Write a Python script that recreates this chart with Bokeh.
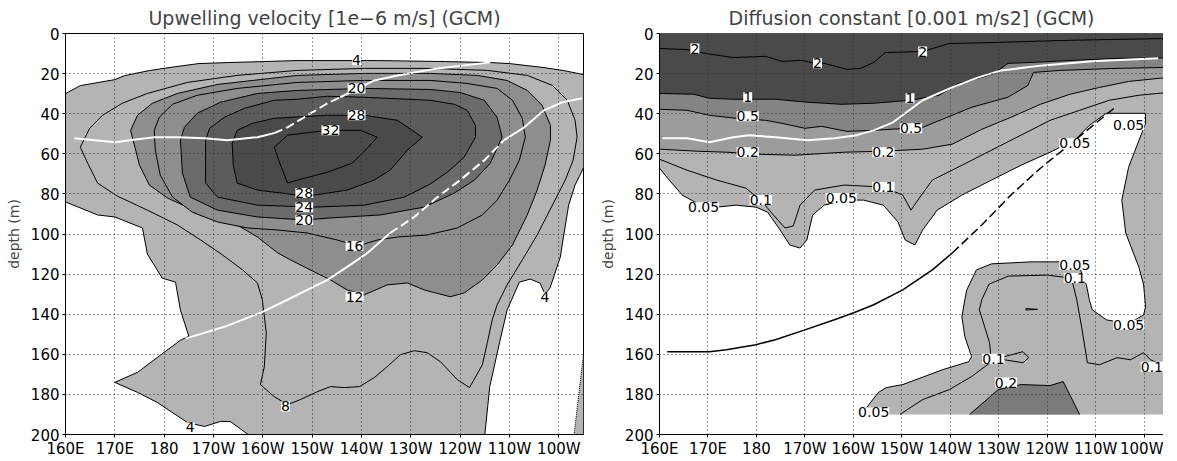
from bokeh.plotting import figure
from bokeh.layouts import row
from bokeh.models import Range1d, FixedTicker, Label, Span
from bokeh.embed import file_html
from bokeh.resources import INLINE

FONT = "DejaVu Sans"

LON_TICKS = [160, 170, 180, 190, 200, 210, 220, 230, 240, 250, 260]
LON_LABELS = ["160E", "170E", "180", "170W", "160W", "150W", "140W", "130W", "120W", "110W", "100W"]
DEPTH_TICKS = [0, 20, 40, 60, 80, 100, 120, 140, 160, 180, 200]

# ---------------- Left panel: upwelling velocity contours (lon, depth) ----------------
up4_top = [(160, 30), (163, 26), (170, 23), (172, 21), (177, 18.5), (181, 17), (187, 15), (193, 14.5),
           (200, 14), (207, 13.5), (223, 13.5), (237, 14), (246, 14.5), (250, 15), (257, 17), (261, 18.5), (265, 20.5)]
up4_right = [(265, 67), (263.3, 75.5), (262, 85.5), (261, 100.5), (260.3, 111.5), (258.2, 127), (257.2, 130),
             (256.2, 124.5), (254.2, 122.5), (252, 124), (249.5, 138), (248, 154), (246, 176), (245, 200)]
up4_left = [(160, 84), (166.5, 90.5), (170, 91.5), (175.6, 97), (176.6, 110), (179.6, 122), (182.3, 124),
            (183.3, 138), (185, 151), (183.3, 153), (180, 159), (174.6, 169), (170, 174), (174.6, 179),
            (178.6, 184), (184.7, 194), (188.2, 196), (191.4, 193.5), (193.4, 193.5), (197, 200)]
up4_sliver = [(265, 160), (264.7, 166), (263.1, 200)]
up8 = [(163, 56.7), (164.9, 47.3), (167.5, 40.8), (171.5, 34.8), (176.6, 29.9), (184.7, 24.4), (194.8, 20.9),
       (207, 18.4), (220.6, 17.4), (233.9, 17.4), (245.5, 18.4), (253.6, 20.9), (258.7, 25.9), (261.7, 33.3),
       (263.3, 43.3), (263.7, 51.7), (262.9, 63.2), (261.3, 73.1), (258.7, 85.6), (255.6, 100.5), (252.6, 112.9),
       (249.5, 125.4), (247.5, 135.3), (246.5, 142.8), (245.5, 154.2), (244.5, 165.2), (241.9, 176.6),
       (239.4, 172.6), (236, 163.7), (233.3, 159.2), (230.7, 158.2), (227.9, 160.2), (225.2, 166.2),
       (222.6, 171.6), (219.6, 176.1), (216.5, 176.6), (213.7, 176.1), (211.1, 178.6), (207.6, 182.6),
       (205, 185.1), (202.3, 181.1), (199.5, 175.1), (200.3, 166.2), (200.7, 149.3), (199.9, 132.8),
       (198.9, 124.4), (195.9, 117.9), (191.8, 110.4), (187.4, 103), (182.7, 95.5), (176.6, 88.1),
       (170.5, 81.1), (166.5, 74.6), (164.5, 64.7), (163, 56.7)]
up12 = [(173.2, 48.3), (174.6, 40.8), (177.6, 34.8), (182.7, 29.9), (190.8, 25.4), (207, 20.9), (220.6, 19.9),
        (233.9, 19.9), (243.5, 20.9), (249.5, 23.4), (253.6, 28.4), (256.6, 35.8), (258.3, 45.8), (258.3, 53.2),
        (257.2, 65.7), (255.6, 78.1), (253.6, 90.5), (250.6, 105.5), (247.5, 115.4), (244.5, 122.9),
        (240.8, 129.4), (238, 131.3), (232.7, 127.9), (229.3, 124.4), (225.2, 125.4), (220.6, 130.3),
        (217.1, 127.9), (213.7, 122.9), (209.6, 117.9), (205.6, 112.9), (203, 109.4), (198.9, 101.5),
        (195.5, 96.5), (192.2, 93), (188.8, 89.6), (184.7, 86.6), (180.7, 82.1), (177, 75.6), (175, 65.7),
        (173.2, 48.3)]
up16 = [(178, 48.3), (179, 41.8), (181.7, 35.3), (186.7, 30.8), (194.8, 27.4), (207, 24.4), (220.6, 23.4),
        (233.9, 23.4), (241.4, 24.9), (247.5, 27.4), (250.6, 33.3), (252.6, 42.3), (253.2, 51.7), (252, 63.2),
        (250, 73.1), (247.5, 83.1), (244.5, 90.5), (239.4, 97), (233.3, 100.5), (227.3, 101.5), (223.2, 103),
        (219.2, 106), (215.1, 103), (209, 99.5), (203, 98), (196.9, 97), (190.8, 94), (185.7, 89.1),
        (181.7, 81.6), (179.2, 70.6), (178.2, 58.2), (178, 48.3)]
up20 = [(183.3, 53.2), (184.1, 46.8), (186.7, 39.8), (191.4, 34.3), (198.9, 29.9), (207, 28.4), (220.6, 27.4),
        (233.9, 27.9), (240, 29.4), (244.9, 33.3), (247.5, 41.8), (248.5, 51.7), (246.1, 64.7), (242.9, 73.1),
        (238.8, 79.6), (232.7, 86.6), (223.8, 90.5), (213.7, 92), (208.4, 93), (198.9, 91.5), (190.8, 88.1),
        (185.3, 81.6), (183.7, 69.7), (183.3, 53.2)]
up24 = [(188.4, 53.2), (189.2, 47.3), (192.2, 41.8), (196.3, 37.3), (202.3, 33.3), (207, 32.8), (213.1, 31.3),
        (220.6, 31.8), (233.9, 33.3), (238.8, 35.3), (241.4, 38.3), (243.1, 45.8), (243.1, 51.7), (240.8, 61.7),
        (237.4, 69.2), (233.9, 75.1), (228.7, 81.6), (220.6, 85.6), (210.4, 86.6), (198.9, 85.6), (190.8, 81.6),
        (188.4, 74.6), (188.4, 64.7), (188.4, 53.2)]
up28 = [(193.8, 54.7), (194.8, 48.3), (197.9, 44.8), (202.3, 42.3), (213.1, 40.8), (220.6, 40.8), (227.3, 43.3),
        (232.3, 51.7), (229.3, 58.2), (225.8, 68.2), (222.6, 73.1), (217.1, 78.1), (210.4, 80.6), (207, 80.6),
        (198.9, 78.1), (194.8, 74.6), (194, 65.7), (193.8, 54.7)]
up32 = [(202.3, 56.7), (205, 50.7), (213.1, 48.3), (219.8, 48.3), (223.2, 51.7), (221.2, 57.2), (218.1, 64.7),
        (213.1, 69.2), (207, 73.1), (205, 74.6), (203.6, 65.7), (202.3, 56.7)]

up_white_a = [(161.8, 52.2), (170.1, 54.2), (173, 53.2), (178, 51.7), (182.7, 51.7), (188.2, 52.2), (192.8, 53.2),
              (198.9, 51.7), (202.3, 49.7)]
up_white_a_dash = [(202.3, 49.7), (205, 46.8), (213.1, 34.8), (215.7, 31.8)]
up_white_a_end = [(215.7, 31.8), (222.6, 23.4), (227.3, 20.9), (235.4, 17.4), (246.1, 14.4)]
up_white_b = [(184.3, 152.2), (192.2, 146.3), (199.5, 139.3), (205, 132.8), (209, 127.9), (213.1, 122.9),
              (217.1, 116.4), (221.2, 109.5), (225.8, 99.5)]
up_white_b_dash = [(225.8, 99.5), (230.7, 91.5), (235.4, 81.6), (240, 73.1), (244.9, 63.2), (248.9, 53.2)]
up_white_b_end = [(248.9, 53.2), (253, 46.8), (257, 38.3), (260.7, 34.3), (264.7, 32.3)]

up_lab_lon = [219, 219, 219, 213.7, 208.4, 208.4, 208.4, 218.6, 218.6, 204.6, 185.3, 257.2]
up_lab_dep = [13.4, 27.4, 40.8, 48.3, 79.6, 86.6, 93.0, 106, 131.3, 186, 196.5, 131.3]
up_lab_txt = ["4", "20", "28", "32", "28", "24", "20", "16", "12", "8", "4", "4"]

UP_LEVEL_COLORS = {4: "#b4b4b4", 8: "#b4b4b4", 12: "#8e8e8e", 16: "#8e8e8e",
                   20: "#6b6b6b", 24: "#5c5c5c", 28: "#4a4a4a", 32: "#4a4a4a"}

# ---------------- Right panel: diffusion constant contours (lon, depth) ----------------
df2 = [(160, 7.5), (165.7, 8), (169.7, 10), (175.2, 12), (181.9, 11.4), (185.3, 13.9), (189.4, 13.4), (192, 14.9),
       (194, 14.9), (198.7, 17.9), (201.5, 17.4), (204.2, 14.4), (206.6, 9.5), (214.3, 9), (219.8, 5),
       (229.1, 4.5), (242.7, 3.5), (252.8, 3), (265, 2.5)]
df1 = [(160, 29.9), (167.1, 30.3), (170.3, 32.3), (175.2, 32.8), (183.9, 32.8), (190.6, 34.3), (197.5, 35.3),
       (204.2, 34.8), (211.7, 33.3), (217.7, 30.8), (221.8, 24.9), (224.4, 23.4), (229.1, 19.9), (231.9, 14.9),
       (237.2, 14.4), (245.3, 13.4), (254.2, 12.4), (265, 12.2)]
df05 = [(160, 37.8), (165.7, 38.3), (170.3, 40.8), (175.8, 42.3), (181.9, 43.3), (185.3, 44.8), (190, 47.3),
        (193.4, 46.3), (198.7, 48.8), (204.2, 48.3), (214.3, 46.8), (220.4, 40.8), (224.4, 36.8), (231.9, 31.8),
        (236, 25.9), (237.2, 19.4), (242.7, 18.4), (254.2, 17.4), (265, 16.9)]
df02 = [(160, 57.7), (167.7, 58.7), (173.8, 59.2), (179.9, 60.2), (188, 60.7), (198.1, 59.2), (206.2, 58.7),
        (214.3, 57.7), (220.4, 55.2), (226.5, 47.8), (232.5, 41.8), (238.6, 35.3), (244.7, 30.3), (250.8, 26.9),
        (256.8, 23.9), (265, 21.9)]
df02_blob = [(224, 190), (229.9, 177.6), (234.6, 175.1), (240.6, 175.6), (243.3, 173.6), (246.7, 190)]
df01_top = [(160, 62.7), (165.7, 68.2), (171.8, 73.1), (177.8, 77.1), (180.9, 83.1), (183.5, 90.5), (185.9, 97),
            (187.6, 96), (189, 85.6), (192, 78.1), (198.1, 75.6), (206.2, 76.6), (210.2, 80.6), (211.9, 88.1),
            (213.3, 83.1), (216.3, 73.1), (222.4, 65.7), (228.5, 58.2), (234.6, 50.7), (240.6, 43.3),
            (246.7, 38.3), (252.8, 33.3), (258.9, 30.8), (265, 29.4)]
df01_low = [(209.6, 190), (214.3, 182.6), (219.8, 177.6), (224.4, 171.1), (228.5, 163.7), (228.1, 154.2),
            (227.1, 146.3), (226, 137.8), (226.5, 132.8), (228, 125), (232, 121), (240, 120.5), (245, 122),
            (246.1, 132.8), (247.1, 146.3), (248.3, 164.2), (250.8, 165.2), (254.4, 161.7), (257.2, 162.7),
            (259.9, 159.2), (261.3, 162.7), (265, 166.7)]
df01_loop = [(231.1, 161.2), (235, 158.7), (236.2, 161.7), (235, 164.2), (231.1, 162.7), (231.1, 161.2)]
df01_tiny = [(235.6, 137.2), (238, 137.6), (235.6, 137.9), (235.6, 137.2)]
df005_low = [(201.7, 190), (203.2, 185.1), (205.2, 179), (206.8, 176.6), (210.2, 175.1), (218.4, 167.7),
             (223.8, 163.7), (224.4, 161.2), (223, 151.2), (222.4, 141.3), (223, 132.8), (223.4, 127.9),
             (225.4, 117.9), (228.5, 114.9), (236.6, 113.9), (242.7, 113.9), (246.7, 116.9), (248.1, 125.4),
             (248.7, 132.8), (249.3, 137.8), (252.2, 142.8), (256.8, 144.8), (259.9, 140.3), (260.3, 136.3),
             (259.9, 125.4), (258.9, 116.4), (256.2, 99.5), (255.4, 83.1), (256.8, 66.7), (260.3, 44.8),
             (260.3, 39.8)]
df005_up = [(260.3, 39.8), (252.2, 39.8), (248.7, 45.8), (245.7, 53.2), (240.6, 59.2), (234.6, 65.7),
            (228.5, 73.1), (222.4, 80.6), (217.3, 88.1), (214.3, 98), (212.7, 105.5), (210.7, 103), (209.2, 94),
            (206.2, 85.6), (202.1, 83.1), (198.1, 83.1), (194, 85.6), (191.6, 90.5), (190.4, 103), (189, 107),
            (186.9, 105.5), (184.9, 98), (182.3, 89.1), (179.9, 86.6), (175.8, 85.6), (171.8, 86.6),
            (167.7, 84.6), (164.7, 80.6), (162, 73.1), (160, 67.2)]

df_white = [(160.6, 52.2), (165.7, 52.2), (170.3, 54.2), (175.2, 51.7), (178.4, 50.7), (183.9, 51.7),
            (190.6, 53.2), (196.1, 52.2), (200.7, 50.7), (204.2, 48.3), (208.2, 44.3), (214.3, 33.3),
            (220.4, 26.9), (225.8, 21.9), (230.5, 18.4), (239.2, 15.9), (249.3, 13.9), (262.9, 12.4)]
df_black = [(161.6, 158.7), (170.3, 158.7), (173.8, 157.7), (179.9, 155.2), (183.9, 152.7), (190, 147.8),
            (196.1, 142.8), (200.1, 139.3), (204.2, 135.3), (210.2, 127.9), (216.3, 117.9), (220.4, 109.5)]
df_black_dash = [(220.4, 109.5), (226.5, 95.5), (232.5, 80.6), (238.6, 67.2), (243.7, 57.2), (248.7, 47.3),
                 (253.8, 37.3)]

df_lab_lon = [167.3, 192.6, 214.3, 178.2, 211.7, 178.2, 211.9, 178.2, 206.2, 256.8, 245.7, 206.2, 180.9,
              197.5, 169.1, 245.7, 245.7, 256.8, 228.9, 261.6, 231.5, 204.2]
df_lab_dep = [7.5, 14.9, 9, 31.8, 32.3, 41.3, 47.3, 59.2, 59.2, 45.8, 54.7, 76.6, 83.1, 82.1, 86.6, 115.4,
              121.9, 145.3, 162.2, 166.2, 174.1, 189]
df_lab_txt = ["2", "2", "2", "1", "1", "0.5", "0.5", "0.2", "0.2", "0.05", "0.05", "0.1", "0.1", "0.05",
              "0.05", "0.05", "0.1", "0.05", "0.1", "0.1", "0.2", "0.05"]

DF_COLORS = {"0.05": "#b4b4b4", "0.2": "#9c9c9c", "0.2b": "#7b7b7b", "0.5": "#848484", "1": "#4a4a4a"}


def xs(pts):
    return [p[0] for p in pts]


def ys(pts):
    return [p[1] for p in pts]


def make_fig(title, width, border_left, border_right, x_end, outline):
    p = figure(width=width, height=460, x_range=Range1d(160, x_end), y_range=Range1d(200, 0),
               output_backend="svg", toolbar_location=None, title=title,
               min_border_left=border_left, min_border_right=border_right,
               min_border_top=30, min_border_bottom=21)
    p.title.text_font = FONT
    p.title.text_font_size = "19px"
    p.title.text_font_style = "normal"
    p.title.align = "center"
    p.title.standoff = 9
    p.outline_line_color = "black" if outline else None
    p.outline_line_width = 1
    p.xaxis.ticker = FixedTicker(ticks=LON_TICKS)
    p.xaxis.major_label_overrides = {t: s for t, s in zip(LON_TICKS, LON_LABELS)}
    p.yaxis.ticker = FixedTicker(ticks=DEPTH_TICKS)
    p.yaxis.axis_label = "depth (m)"
    p.yaxis.axis_label_text_font = FONT
    p.yaxis.axis_label_text_font_size = "14px"
    p.yaxis.axis_label_text_font_style = "normal"
    p.yaxis.axis_label_standoff = 6
    for ax in (p.xaxis[0], p.yaxis[0]):
        ax.major_label_text_font = FONT
        ax.major_label_text_font_size = "15px"
        ax.major_label_text_color = "black"
        ax.axis_line_color = "black"
        ax.major_tick_line_color = "black"
        ax.major_tick_out = 3
        ax.major_tick_in = 0
        ax.minor_tick_line_color = None
        ax.major_label_standoff = 2
    p.yaxis.major_label_standoff = 3
    p.xgrid.ticker = FixedTicker(ticks=LON_TICKS[1:])
    p.ygrid.ticker = FixedTicker(ticks=DEPTH_TICKS[1:-1])
    for g in (p.xgrid[0], p.ygrid[0]):
        g.grid_line_color = "#333333"
        g.grid_line_dash = "1 3"
        g.grid_line_width = 1
        g.level = "guide"
    return p


def add_labels(p, lons, deps, txts):
    for lo, de, tx in zip(lons, deps, txts):
        p.add_layout(Label(x=lo, y=de, text=tx, text_font=FONT, text_font_size="14px",
                           text_align="center", text_baseline="middle", text_color="black",
                           background_fill_color="white"))


# ---------- left figure ----------
p1 = make_fig("Upwelling velocity [1e\u22126 m/s] (GCM)", 593, 65, 10, 265, True)
region4 = up4_top + up4_right + list(reversed(up4_left))
p1.patch(xs(region4), ys(region4), fill_color=UP_LEVEL_COLORS[4], line_color=None)
sliver = up4_sliver + [(265, 200)]
p1.patch(xs(sliver), ys(sliver), fill_color=UP_LEVEL_COLORS[4], line_color=None)
for lev, poly in [(8, up8), (12, up12), (16, up16), (20, up20), (24, up24), (28, up28), (32, up32)]:
    p1.patch(xs(poly), ys(poly), fill_color=UP_LEVEL_COLORS[lev], line_color="black", line_width=1)
for ln in (up4_top, up4_right, up4_left):
    p1.line(xs(ln), ys(ln), line_color="black", line_width=1)
p1.line(xs(up4_sliver), ys(up4_sliver), line_color="black", line_width=1, line_dash="1 1")
for ln in (up_white_a, up_white_a_end, up_white_b, up_white_b_end):
    p1.line(xs(ln), ys(ln), line_color="white", line_width=2)
for ln in (up_white_a_dash, up_white_b_dash):
    p1.line(xs(ln), ys(ln), line_color="white", line_width=2, line_dash="9 4")
add_labels(p1, up_lab_lon, up_lab_dep, up_lab_txt)

# ---------- right figure ----------
p2 = make_fig("Diffusion constant [0.001 m/s2] (GCM)", 570, 66, 0, 264.0, False)
p2.add_layout(Span(location=0, dimension="width", line_color="black", line_width=1))
reg005 = [(160, 0), (265, 0), (265, 190)] + df005_low + df005_up
p2.patch(xs(reg005), ys(reg005), fill_color=DF_COLORS["0.05"], line_color=None)
reg02 = [(160, 0), (265, 0)] + list(reversed(df02))
p2.patch(xs(reg02), ys(reg02), fill_color=DF_COLORS["0.2"], line_color=None)
p2.patch(xs(df02_blob), ys(df02_blob), fill_color=DF_COLORS["0.2b"], line_color=None)
reg05 = [(160, 0), (265, 0)] + list(reversed(df05))
p2.patch(xs(reg05), ys(reg05), fill_color=DF_COLORS["0.5"], line_color=None)
reg1 = [(160, 0), (265, 0)] + list(reversed(df1))
p2.patch(xs(reg1), ys(reg1), fill_color=DF_COLORS["1"], line_color=None)
for ln in (df2, df1, df05, df02, df02_blob, df01_top, df01_low, df01_loop, df01_tiny, df005_low, df005_up):
    p2.line(xs(ln), ys(ln), line_color="black", line_width=1)
p2.line(xs(df_white), ys(df_white), line_color="white", line_width=2)
p2.line(xs(df_black), ys(df_black), line_color="black", line_width=1.5)
p2.line(xs(df_black_dash), ys(df_black_dash), line_color="black", line_width=1.5, line_dash="9 4")
add_labels(p2, df_lab_lon, df_lab_dep, df_lab_txt)

layout = row(p1, p2)
open("out.html", "w").write(file_html(layout, INLINE))
